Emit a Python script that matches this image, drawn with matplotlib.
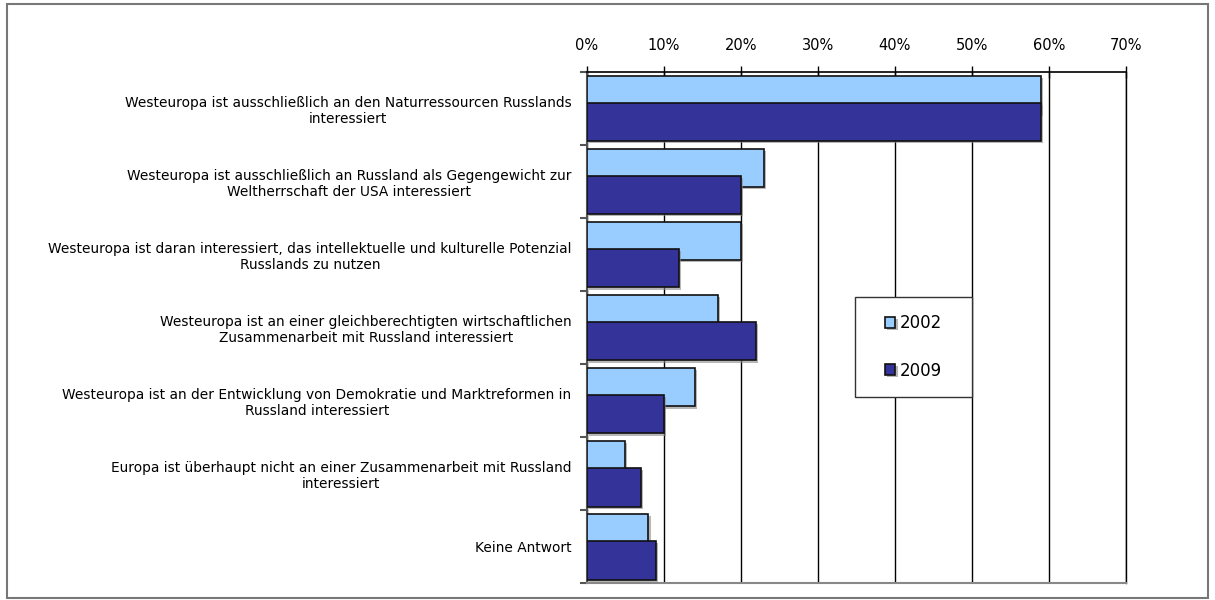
import numpy as np
import matplotlib
matplotlib.use('Agg')
import matplotlib.pyplot as plt
from matplotlib.patches import Rectangle
import matplotlib.patheffects as pe

categories = [
    'Westeuropa ist ausschließlich an den Naturressourcen Russlands\ninteressiert',
    'Westeuropa ist ausschließlich an Russland als Gegengewicht zur\nWeltherrschaft der USA interessiert',
    'Westeuropa ist daran interessiert, das intellektuelle und kulturelle Potenzial\nRusslands zu nutzen',
    'Westeuropa ist an einer gleichberechtigten wirtschaftlichen\nZusammenarbeit mit Russland interessiert',
    'Westeuropa ist an der Entwicklung von Demokratie und Marktreformen in\nRussland interessiert',
    'Europa ist überhaupt nicht an einer Zusammenarbeit mit Russland\ninteressiert',
    'Keine Antwort',
]
vals_2002 = [59, 23, 20, 17, 14, 5, 8]
vals_2009 = [59, 20, 12, 22, 10, 7, 9]
series_names = ['2002', '2009']
xticks = [0, 10, 20, 30, 40, 50, 60, 70]

light = '#99ccff'
dark = '#333399'

plt.rcParams['font.family'] = ['DejaVu Sans']
fig = plt.figure(figsize=(12.15, 6.0), dpi=100)
ax = fig.add_axes([0.483, 0.028, 0.4437, 0.852])

y = np.arange(len(categories))
h = 0.53
off = 0.185
shadow = [pe.SimplePatchShadow(offset=(1.5, -1.5), shadow_rgbFace='#888888', alpha=0.6), pe.Normal()]
b1 = ax.barh(y - off, vals_2002, height=h, color=light, edgecolor='#111111', linewidth=1.2, zorder=3)
b2 = ax.barh(y + off, vals_2009, height=h, color=dark, edgecolor='#111111', linewidth=1.2, zorder=4)
for bar in list(b1) + list(b2):
    bar.set_path_effects(shadow)

ax.set_xlim(0, 70)
ax.set_ylim(len(categories) - 0.5, -0.5)
ax.xaxis.tick_top()
ax.set_xticks(xticks)
ax.set_xticklabels([f'{t}%' for t in xticks], fontsize=10.5)
ax.tick_params(axis='x', direction='inout', length=8, width=1, pad=10, colors='black')
ax.grid(axis='x', color='black', linewidth=1, zorder=1)

# category ticks sit on the boundaries, labels in the middle
ax.set_yticks(np.arange(len(categories) + 1) - 0.5)
ax.set_yticklabels([])
ax.set_yticks(y, minor=True)
ax.set_yticklabels(categories, minor=True, fontsize=9.9, multialignment='center')
ax.tick_params(axis='y', which='major', direction='out', length=5, width=1.5, color='#555555')
ax.tick_params(axis='y', which='minor', length=0, pad=11)

ax.spines['right'].set_color('black')
ax.spines['right'].set_linewidth(1)
ax.spines['top'].set_color('black')
ax.spines['top'].set_linewidth(1.2)
ax.spines['left'].set_color('#555555')
ax.spines['left'].set_linewidth(1.5)
ax.spines['bottom'].set_color('#888888')
ax.spines['bottom'].set_linewidth(1.5)

# legend: a fixed white box with the entries centred inside
ax.add_patch(Rectangle((0.497, 0.364), 0.217, 0.196, transform=ax.transAxes,
                       facecolor='white', edgecolor='#333333', linewidth=1, zorder=5))
leg = ax.legend([b1, b2], series_names, loc='center', bbox_to_anchor=(0.6055, 0.462),
                frameon=False, fontsize=12, handlelength=0.65, handleheight=0.65,
                handletextpad=0.25, labelspacing=1.75, borderpad=0)
leg.set_zorder(6)

# frame round the whole figure
fig.patches.append(Rectangle((0.006, 0.003), 0.988, 0.99, transform=fig.transFigure,
                             fill=False, edgecolor='#777777', linewidth=1.5))

fig.savefig('out.png', dpi=100)
